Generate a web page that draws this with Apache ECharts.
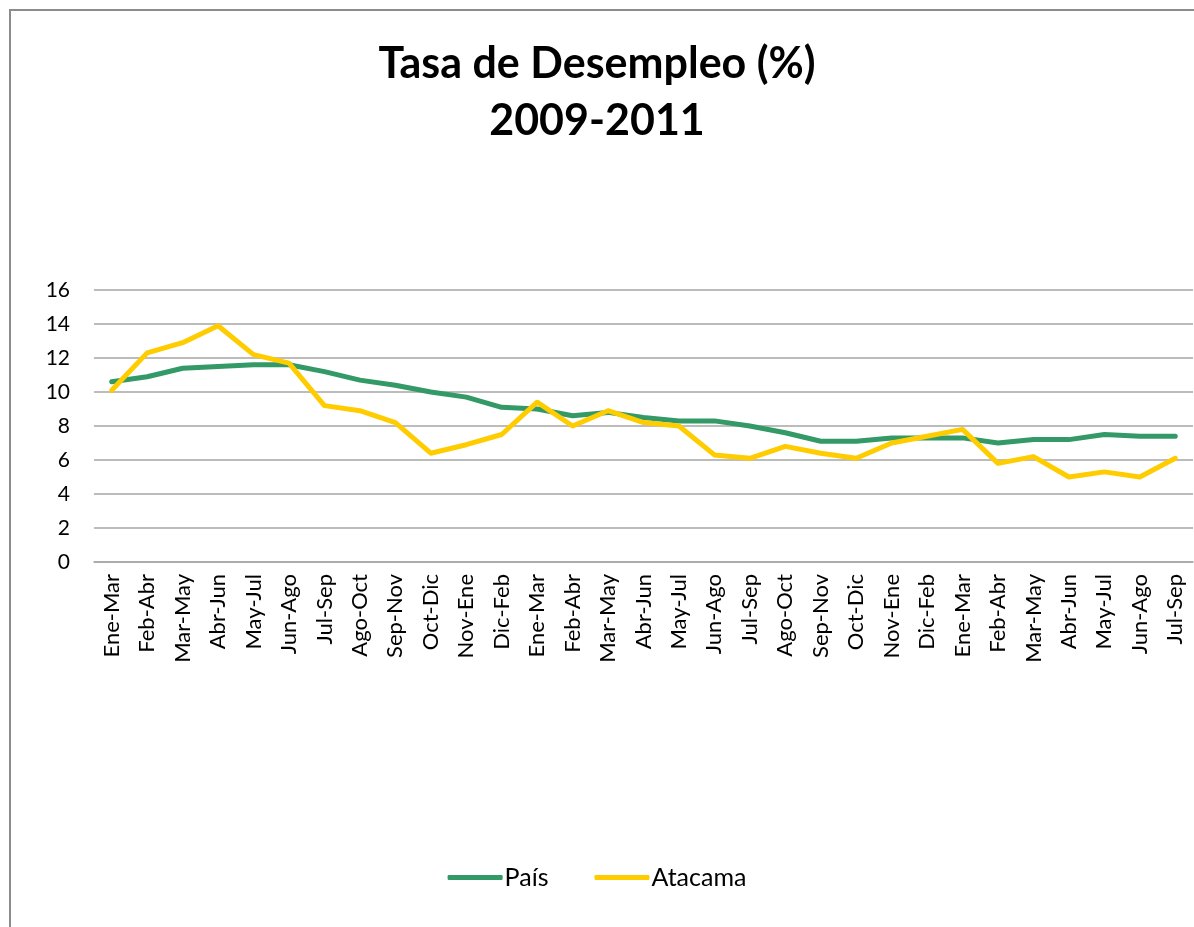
<!DOCTYPE html>
<html>
<head>
<meta charset="utf-8">
<script src="https://cdn.jsdelivr.net/npm/echarts@6/dist/echarts.min.js"></script>
<style>
html, body { margin: 0; padding: 0; background: #fff; }
#chart { width: 1194px; height: 927px; }
</style>
</head>
<body>
<div id="chart"></div>
<script>
var categories = ['Ene-Mar', 'Feb-Abr', 'Mar-May', 'Abr-Jun', 'May-Jul', 'Jun-Ago', 'Jul-Sep', 'Ago-Oct', 'Sep-Nov', 'Oct-Dic', 'Nov-Ene', 'Dic-Feb',
    'Ene-Mar', 'Feb-Abr', 'Mar-May', 'Abr-Jun', 'May-Jul', 'Jun-Ago', 'Jul-Sep', 'Ago-Oct', 'Sep-Nov', 'Oct-Dic', 'Nov-Ene', 'Dic-Feb',
    'Ene-Mar', 'Feb-Abr', 'Mar-May', 'Abr-Jun', 'May-Jul', 'Jun-Ago', 'Jul-Sep'];

var pais = [10.6, 10.9, 11.4, 11.5, 11.6, 11.6, 11.2, 10.7, 10.4, 10.0, 9.7, 9.1,
    9.0, 8.6, 8.8, 8.5, 8.3, 8.3, 8.0, 7.6, 7.1, 7.1, 7.3, 7.3,
    7.3, 7.0, 7.2, 7.2, 7.5, 7.4, 7.4];

var atacama = [10.1, 12.3, 12.9, 13.9, 12.2, 11.7, 9.2, 8.9, 8.2, 6.4, 6.9, 7.5,
    9.4, 8.0, 8.9, 8.2, 8.0, 6.3, 6.1, 6.8, 6.4, 6.1, 7.0, 7.4,
    7.8, 5.8, 6.2, 5.0, 5.3, 5.0, 6.1];

var dom = document.getElementById('chart');
var myChart = echarts.init(dom);

var font = 'Lato, "Open Sans", sans-serif';

var option = {
    animation: false,
    color: ['#339966', '#ffcc00'],
    graphic: [{
        type: 'rect',
        shape: { x: 10, y: 10, width: 1300, height: 1000 },
        style: { fill: 'none', stroke: '#8c8c8c', lineWidth: 2 },
        silent: true
    }],
    title: {
        text: 'Tasa de Desempleo (%)\n2009-2011',
        left: 'center',
        top: 31,
        textStyle: {
            fontFamily: font,
            fontWeight: 'bold',
            fontSize: 43,
            lineHeight: 57,
            color: '#000'
        }
    },
    legend: {
        bottom: 32,
        left: 'center',
        itemWidth: 55,
        itemHeight: 5,
        itemGap: 46,
        icon: 'roundRect',
        textStyle: { fontFamily: font, fontSize: 25, color: '#000', padding: [0, 0, 0, -3] },
        data: ['País', 'Atacama']
    },
    grid: {
        left: 94,
        right: 1,
        top: 290,
        bottom: 365,
        containLabel: false
    },
    xAxis: {
        type: 'category',
        data: categories,
        boundaryGap: true,
        axisLine: { show: true, lineStyle: { color: '#a6a6a6', width: 1.5 } },
        axisTick: { show: false },
        axisLabel: {
            interval: 0,
            rotate: 90,
            margin: 12,
            fontFamily: font,
            fontSize: 22,
            color: '#000'
        }
    },
    yAxis: {
        type: 'value',
        min: 0,
        max: 16,
        interval: 2,
        axisLine: { show: false },
        axisTick: { show: false },
        axisLabel: {
            margin: 24,
            fontFamily: font,
            fontSize: 21,
            color: '#000'
        },
        splitLine: { lineStyle: { color: '#a6a6a6', width: 1.5 } }
    },
    series: [{
        name: 'País',
        type: 'line',
        data: pais,
        symbol: 'none',
        lineStyle: { width: 5, color: '#339966', cap: 'round', join: 'round' }
    }, {
        name: 'Atacama',
        type: 'line',
        data: atacama,
        symbol: 'none',
        lineStyle: { width: 5, color: '#ffcc00', cap: 'round', join: 'round' }
    }]
};

if (option && typeof option === 'object') {
    myChart.setOption(option);
}
</script>
</body>
</html>
